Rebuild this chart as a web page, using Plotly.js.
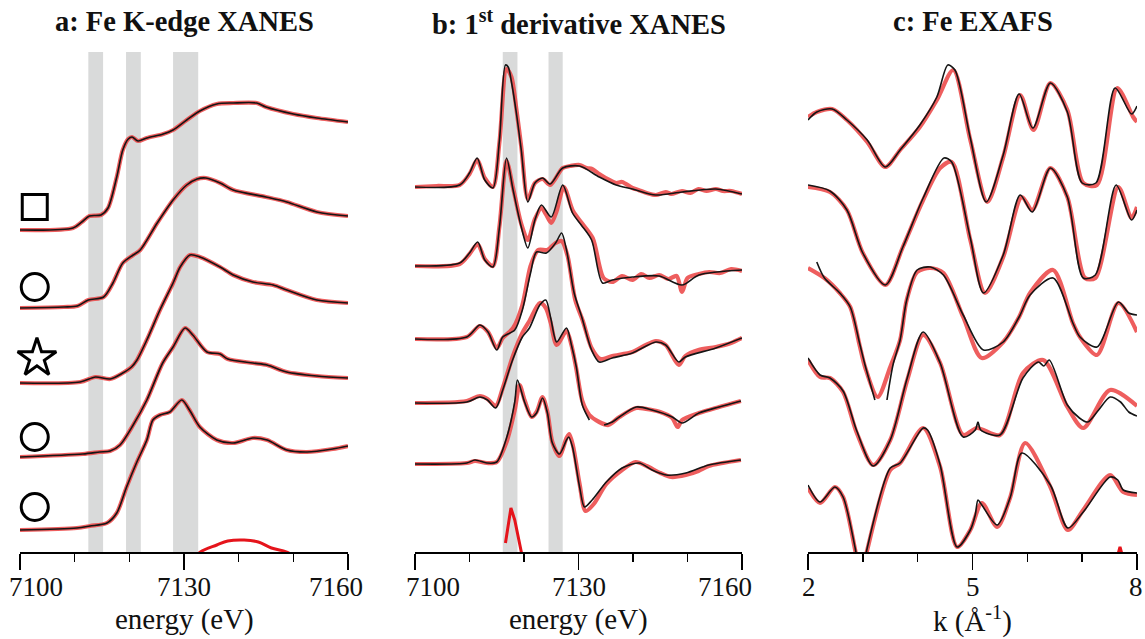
<!DOCTYPE html>
<html><head><meta charset="utf-8">
<script src="https://cdn.plot.ly/plotly-3.0.1.min.js"></script>
<style>html,body{margin:0;padding:0;background:#fff}#chart{width:1145px;height:639px}</style>
</head><body><div id="chart"></div>
<script>
// ---------- Panel a: Fe K-edge XANES (normalised, stacked) ----------
const xanesOffsets = [3.22, 2.44, 1.69, 0.95, 0.22];
const xanesE1 = [7100, 7109.7, 7111.3, 7112.7, 7114.8, 7116.1, 7117.7, 7118.8, 7119.8, 7120.5, 7121.6, 7123.2, 7126.2, 7128, 7130.5, 7132.9, 7136, 7139, 7143.3, 7145, 7150, 7154.3, 7160];
const xanes1  = [0, .02, .08, .14, .15, .22, .53, .80, .91, .93, .89, .92, .96, 1.00, 1.10, 1.19, 1.26, 1.27, 1.27, 1.23, 1.16, 1.12, 1.08];
const xanesE2 = [7100, 7108, 7110.5, 7112.5, 7115.3, 7117, 7118.8, 7120.7, 7122, 7125.1, 7128, 7130.5, 7132.4, 7134, 7136.6, 7139, 7145, 7148.8, 7154.3, 7160];
const xanes2  = [0, .01, .02, .08, .11, .25, .45, .53, .58, .85, 1.08, 1.23, 1.29, 1.30, 1.25, 1.18, 1.11, 1.06, .96, .92];
const xanesE3 = [7100, 7111, 7113.8, 7116.5, 7118.8, 7120.4, 7121.4, 7123.2, 7125.6, 7128, 7129.3, 7131.1, 7132.9, 7136.6, 7139, 7142.6, 7146.3, 7148.8, 7154.3, 7160];
const xanes3  = [0, .01, .06, .04, .10, .16, .23, .43, .73, 1.00, 1.16, 1.28, 1.26, 1.16, 1.08, 1.01, .98, .93, .83, .80];
const xanesE4 = [7100, 7111.5, 7114.6, 7116.5, 7118.3, 7120.7, 7123.2, 7126.1, 7128, 7130.2, 7131.6, 7134.2, 7136.6, 7138, 7142.6, 7145.2, 7148.8, 7154.3, 7160];
const xanes4  = [0, .03, .05, .06, .12, .32, .57, .94, 1.10, 1.29, 1.22, 1.05, 1.03, .98, .94, .92, .85, .81, .79];
const xanesE5 = [7100, 7110.4, 7112.8, 7115.9, 7117.7, 7119.5, 7121.3, 7123.2, 7124.3, 7125.6, 7127.4, 7129.6, 7131, 7132.9, 7136, 7139, 7142.6, 7145.2, 7148.8, 7152.5, 7157.2, 7160];
const xanes5  = [0, .02, .04, .07, .17, .43, .67, .90, 1.10, 1.15, 1.18, 1.30, 1.20, 1.03, .90, .87, .92, .90, .80, .78, .81, .84];
const xanesResE = [7131, 7133, 7136, 7138, 7141, 7143.6, 7146, 7148.8, 7151];
const xanesRes  = [-.13, 0, .07, .11, .12, .10, .04, 0, -.08];
const xanesBands = [[7112.5, 7115.2], [7119.4, 7122.1], [7128, 7132.6]];
const markerSymbols = ['square-open', 'circle-open', 'star-open', 'circle-open', 'circle-open'];
const markerSizes = [25, 27, 29, 27, 27];
const markerE = [7102.7, 7102.7, 7103.1, 7102.7, 7102.7];
const markerY = [3.45, 2.65, 1.94, 1.15, 0.45];

// ---------- Panel b: 1st derivative XANES (stacked) ----------
const derivOffsets = [3.65, 2.86, 2.14, 1.49, 0.88];
const derivDataE1 = [7100, 7108.2, 7110, 7111.4, 7112.8, 7114.3, 7115.5, 7116.6, 7117.1, 7117.7, 7118.6, 7119.5, 7120.7, 7122, 7123.4, 7124.8, 7127.1, 7130.2, 7133.8, 7136.9, 7139.9, 7144.2, 7149, 7155.2, 7160];
const derivData1  = [0, .02, .14, .29, .07, -.01, .47, 1.22, 1.20, 1.05, .74, .37, -.15, .04, .09, .03, .19, .21, .10, .02, -.02, -.08, -.05, -.02, -.07];
const derivFitE1 = [7100, 7104, 7108.2, 7110, 7111.4, 7112.8, 7114.3, 7115.5, 7116.8, 7117.7, 7118.6, 7119.5, 7120.7, 7122, 7123.4, 7124.8, 7127.1, 7128.5, 7130.2, 7131.5, 7132.5, 7133.8, 7135, 7136.9, 7138, 7139.9, 7141, 7142.5, 7144.2, 7146, 7147, 7149, 7150.5, 7152, 7153.5, 7155.2, 7156.5, 7158, 7160];
const derivFit1  = [0, .01, .02, .13, .27, .09, 0, .45, 1.18, 1.10, .78, .40, -.12, .04, .08, .02, .19, .21, .22, .19, .18, .13, .09, .04, .05, -.01, -.03, -.06, -.08, -.05, -.07, -.04, -.06, -.02, -.04, -.02, -.04, -.04, -.07];
const derivDataE2 = [7100, 7108.2, 7110, 7111.5, 7112.8, 7114.3, 7115.5, 7116.8, 7118, 7119.5, 7120.7, 7122, 7123.2, 7125, 7127.1, 7128.9, 7130.5, 7132.4, 7134.4, 7136.2, 7139.9, 7144.8, 7149, 7152.1, 7160];
const derivData2  = [0, .03, .13, .24, .06, -.01, .39, 1.08, .76, .39, .18, .46, .61, .49, .81, .53, .41, .26, -.17, -.14, -.11, -.10, -.19, -.09, -.04];
const derivFitE2 = [7100, 7108.2, 7110, 7111.5, 7112.8, 7114.3, 7115.5, 7116.8, 7118, 7119.5, 7120.7, 7122, 7123.2, 7124, 7125, 7126, 7127.3, 7129, 7130.6, 7132.6, 7134.6, 7136.2, 7138, 7139.9, 7141.5, 7143, 7144.8, 7146.5, 7148, 7149, 7150, 7152.1, 7154, 7156, 7158, 7160];
const derivFit2  = [0, .02, .12, .22, .07, 0, .40, 1.05, .78, .42, .26, .47, .58, .52, .43, .55, .79, .55, .43, .28, -.12, -.16, -.10, -.14, -.08, -.12, -.09, -.13, -.10, -.26, -.12, -.08, -.06, -.07, -.03, -.05];
const derivDataE3 = [7100, 7109.5, 7111.9, 7113.4, 7115, 7116.1, 7118.3, 7119.7, 7121.2, 7122.3, 7124.1, 7125.8, 7126.9, 7127.8, 7129.2, 7130.6, 7132.4, 7133.8, 7136.2, 7139.9, 7144.2, 7146, 7148.4, 7149.6, 7155.2, 7160];
const derivData3  = [-.01, .01, .13, .06, -.12, .01, .08, .28, .65, .86, .85, .95, 1.05, .88, .45, .21, -.12, -.24, -.20, -.15, -.04, -.07, -.24, -.19, -.10, 0];
const derivFitE3 = [7100, 7109.5, 7111.9, 7113.4, 7115, 7116.1, 7118, 7119.7, 7121.2, 7122.6, 7124.3, 7125.8, 7126.9, 7128, 7129.4, 7130.8, 7132.4, 7134, 7136.2, 7139.9, 7142, 7144.2, 7146, 7148.4, 7149.6, 7152, 7155.2, 7158, 7160];
const derivFit3  = [-.01, .01, .12, .06, -.10, 0, .10, .33, .72, .88, .88, .95, .97, .82, .38, .17, -.10, -.21, -.18, -.14, -.08, -.03, -.07, -.27, -.18, -.12, -.09, -.05, 0];
const derivDataE4 = [7100, 7109.5, 7111.9, 7113.3, 7114.8, 7116.1, 7117.9, 7119.7, 7121, 7122.9, 7124, 7124.9, 7126, 7127.8, 7128.7, 7129.6, 7130.7, 7132, 7133, 7134.7, 7136.2, 7137.5, 7140.6, 7143.5, 7147.2, 7149, 7152.1, 7155.8, 7159.8];
const derivData4  = [0, .01, .06, .03, -.05, .13, .43, .66, .75, .98, 1.03, .85, .61, .75, .58, .36, -.02, -.17, null, -.22, -.19, -.14, -.04, -.07, -.14, -.20, -.10, -.04, .02];
const derivFitE4 = [7100, 7109.5, 7111.9, 7113.3, 7114.8, 7116.1, 7117.9, 7119.7, 7121, 7122.9, 7124, 7124.9, 7126, 7127.8, 7128.7, 7129.6, 7130.7, 7132, 7133.8, 7135.5, 7137.5, 7140.6, 7143.5, 7145, 7147.2, 7148.2, 7149, 7152.1, 7155.8, 7159.8];
const derivFit4  = [0, .02, .07, .04, -.03, .15, .46, .70, .82, 1.00, .95, .80, .58, .72, .58, .34, .02, -.12, -.19, -.22, -.14, -.05, -.07, -.09, -.15, -.24, -.17, -.10, -.04, .02];
const derivDataE5 = [7100, 7109.5, 7111, 7113.2, 7115, 7116.8, 7118.3, 7118.8, 7120.1, 7121.4, 7122.3, 7123.4, 7124.3, 7125.2, 7126.5, 7127.8, 7128.2, 7128.9, 7130.2, 7131.1, 7132.5, 7135.1, 7138, 7141.1, 7143.5, 7146.1, 7149.7, 7153.9, 7159.8];
const derivData5  = [0, .01, .04, .01, .02, .26, .62, .84, .62, .47, .51, .66, .51, .21, .10, .24, .27, .17, -.23, -.43, -.36, -.18, -.04, .01, -.06, -.11, -.09, -.01, .04];
const derivFitE5 = [7100, 7109.5, 7111, 7113.2, 7115, 7116.8, 7118.3, 7119.2, 7120.1, 7121.4, 7122.3, 7123.4, 7124.3, 7125.2, 7126.5, 7127.8, 7128.3, 7129, 7130.2, 7131.3, 7132.8, 7135.1, 7138, 7140.5, 7142.5, 7145, 7147, 7149.7, 7152, 7153.9, 7159.8];
const derivFit5  = [0, .01, .03, .01, .02, .22, .54, .79, .64, .47, .52, .67, .52, .22, .08, .26, .30, .18, -.20, -.47, -.40, -.20, -.06, .02, -.02, -.09, -.13, -.11, -.07, -.02, .04];
const derivResE = [7116.6, 7117.6, 7118.3, 7119.4, 7119.7];
const derivRes  = [.09, .44, .32, 0, -.05];
const derivBands = [[7116.1, 7118.8], [7124.5, 7127.1]];

// ---------- Panel c: Fe EXAFS (stacked) ----------
const exafsOffsets = [4.02, 3.22, 2.42, 1.52, 0.62];
const exafsFitK1 = [2.0, 2.16, 2.44, 2.71, 3.08, 3.41, 3.68, 4.04, 4.35, 4.65, 4.96, 5.27, 5.56, 5.87, 6.11, 6.42, 6.73, 7.02, 7.27, 7.64, 7.93, 8.0];
const exafsFit1  = [.33, .38, .41, .30, .08, -.17, 0, .23, .50, .80, .10, -.52, -.07, .55, .20, .67, .40, -.33, -.35, .62, .33, .28];
const exafsDataK1 = [2.0, 2.16, 2.44, 2.71, 3.08, 3.41, 3.68, 4.04, 4.35, 4.55, 4.68, 4.96, 5.25, 5.56, 5.85, 6.1, 6.42, 6.73, 7.0, 7.25, 7.6, 7.9, 8.0];
const exafsData1  = [.30, .38, .41, .30, .10, -.17, 0, .25, .53, .85, .80, .12, -.52, -.05, .56, .22, .67, .38, -.33, -.33, .62, .36, .44];
const exafsFitK2 = [2.0, 2.4, 2.71, 3.0, 3.41, 3.73, 4.1, 4.41, 4.62, 4.96, 5.23, 5.56, 5.9, 6.09, 6.42, 6.73, 7.05, 7.24, 7.66, 7.9, 8.0];
const exafsFit2  = [.43, .38, .20, -.23, -.55, -.17, .30, .62, .68, -.10, -.63, -.27, .33, .20, .62, .33, -.48, -.48, .43, .12, .23];
const exafsDataK2 = [2.0, 2.4, 2.71, 3.0, 3.41, 3.73, 4.1, 4.48, 4.62, 4.96, 5.2, 5.56, 5.87, 6.09, 6.42, 6.73, 7.02, 7.24, 7.62, 7.9, 8.0];
const exafsData2  = [.45, .39, .20, -.23, -.55, -.17, .32, .72, .68, -.08, -.63, -.25, .35, .18, .62, .33, -.48, -.45, .45, .10, .20];
const exafsFitK3 = [2.0, 2.3, 2.58, 2.77, 2.94, 3.04, 3.27, 3.5, 3.68, 3.8, 3.99, 4.23, 4.47, 4.83, 5.17, 5.56, 5.85, 6.05, 6.47, 6.83, 6.96, 7.27, 7.66, 8.0];
const exafsFit3  = [.42, .32, .17, .03, -.35, -.57, -.87, -.57, -.30, .10, .38, .42, .37, -.07, -.48, -.32, -.07, .17, .40, -.13, -.27, -.45, .07, -.22];
const exafsDataK3 = [2.16, 2.3, 2.58, 2.77, 2.94, 3.04, 3.22, 3.33, 3.44, 3.55, 3.68, 3.8, 3.99, 4.23, 4.47, 4.83, 5.2, 5.56, 5.85, 6.05, 6.47, 6.83, 6.96, 7.27, 7.66, 7.85, 8.0];
const exafsData3  = [.48, .32, .17, .03, -.33, -.55, -.90, null, -.90, -.55, -.30, .10, .40, .43, .35, -.05, -.40, -.32, -.07, .15, .32, -.13, -.27, -.37, .08, -.03, -.05];
const exafsFitK4 = [2.0, 2.22, 2.4, 2.64, 2.89, 3.19, 3.5, 3.81, 4.1, 4.41, 4.83, 5.08, 5.5, 5.92, 6.29, 6.73, 7.02, 7.51, 8.0];
const exafsFit4  = [.40, .23, .22, .08, -.33, -.65, -.40, .20, .65, .37, -.35, -.28, -.35, .27, .40, -.07, -.28, .10, -.06];
const exafsDataK4 = [2.0, 2.22, 2.4, 2.64, 2.89, 3.19, 3.5, 3.81, 4.1, 4.41, 4.83, 5.05, 5.1, 5.15, 5.5, 5.92, 6.2, 6.3, 6.4, 6.73, 6.95, 7.1, 7.3, 7.51, 7.7, 7.85, 8.0];
const exafsData4  = [.42, .25, .22, .09, -.31, -.66, -.40, .22, .68, .37, -.37, -.30, -.22, -.30, -.35, .22, .38, .34, .40, -.05, -.18, -.22, -.10, .03, -.02, -.12, -.16];
const exafsFitK5 = [2.0, 2.22, 2.49, 2.64, 2.86, 2.97, 3.08, 3.5, 3.68, 4.1, 4.41, 4.72, 4.96, 5.17, 5.45, 5.69, 5.96, 6.42, 6.74, 7.02, 7.51, 7.75, 8.0];
const exafsFit5  = [.02, -.13, .03, -.07, -.60, -.90, -.60, .20, .27, .62, .23, -.57, -.40, -.13, -.37, -.07, .47, .03, -.40, -.20, .15, -.02, -.05];
const exafsDataK5 = [2.0, 2.22, 2.49, 2.64, 2.86, 2.97, 3.08, 3.5, 3.68, 4.1, 4.18, 4.41, 4.72, 4.96, 5.05, 5.1, 5.17, 5.45, 5.69, 5.9, 6.42, 6.74, 7.02, 7.51, 7.65, 7.75, 8.0];
const exafsData5  = [.05, -.12, .03, -.07, -.58, -.90, -.58, .22, .27, .62, .60, .25, -.57, -.40, -.25, -.10, -.15, -.35, -.07, .37, .05, -.38, -.22, .13, .10, 0, -.03];
const exafsResK = [7.64, 7.69, 7.74];
const exafsRes  = [-.05, .05, -.05];

// ---------- axis ticks & labels ----------
const energyMajorTicks = [7100, 7130, 7160];
const energyMinorTicks = [7110, 7120, 7140, 7150];
const kMajorTicks = [2, 5, 8];
const kMinorTicks = [3, 4, 6, 7];
const panelTitles = ['<b>a: Fe K-edge XANES</b>', '<b>b: 1<sup>st</sup> derivative XANES</b>', '<b>c: Fe EXAFS</b>'];
const axisTitles = ['energy (eV)', 'energy (eV)', 'k (Å<sup>-1</sup>)'];

// ---------- build ----------
const RED = 'rgba(236,72,72,0.88)';
const BLACK = '#151515';
const RESRED = '#e5141b';
const FONT = 'Liberation Serif';
const traces = [];
function shift(v, o) { return v.map(d => d === null ? null : d + o); }
function addPair(xa, ya, xd, yd, off, ax) {
  traces.push({x: xa, y: shift(ya, off), xaxis: 'x' + ax, yaxis: 'y' + ax, mode: 'lines',
    line: {color: RED, width: 4.2, shape: 'spline', smoothing: 0.8}, hoverinfo: 'skip', connectgaps: false});
  traces.push({x: xd, y: shift(yd, off), xaxis: 'x' + ax, yaxis: 'y' + ax, mode: 'lines',
    line: {color: BLACK, width: 1.6, shape: 'spline', smoothing: 0.8}, hoverinfo: 'skip', connectgaps: false});
}
const xE = [xanesE1, xanesE2, xanesE3, xanesE4, xanesE5];
const xV = [xanes1, xanes2, xanes3, xanes4, xanes5];
for (let i = 0; i < 5; i++) addPair(xE[i], xV[i], xE[i], xV[i], xanesOffsets[i], '');
traces.push({x: xanesResE, y: xanesRes, xaxis: 'x', yaxis: 'y', mode: 'lines', line: {color: RESRED, width: 3, shape: 'spline'}, hoverinfo: 'skip'});
for (let i = 0; i < 5; i++) traces.push({x: [markerE[i]], y: [markerY[i]], xaxis: 'x', yaxis: 'y', mode: 'markers', cliponaxis: false,
  marker: {symbol: markerSymbols[i], size: markerSizes[i], color: '#000', line: {color: '#000', width: 3}}, hoverinfo: 'skip'});

const dFE = [derivFitE1, derivFitE2, derivFitE3, derivFitE4, derivFitE5];
const dF = [derivFit1, derivFit2, derivFit3, derivFit4, derivFit5];
const dDE = [derivDataE1, derivDataE2, derivDataE3, derivDataE4, derivDataE5];
const dD = [derivData1, derivData2, derivData3, derivData4, derivData5];
for (let i = 0; i < 5; i++) addPair(dFE[i], dF[i], dDE[i], dD[i], derivOffsets[i], '2');
traces.push({x: derivResE, y: derivRes, xaxis: 'x2', yaxis: 'y2', mode: 'lines', line: {color: RESRED, width: 3}, hoverinfo: 'skip'});

const eFK = [exafsFitK1, exafsFitK2, exafsFitK3, exafsFitK4, exafsFitK5];
const eF = [exafsFit1, exafsFit2, exafsFit3, exafsFit4, exafsFit5];
const eDK = [exafsDataK1, exafsDataK2, exafsDataK3, exafsDataK4, exafsDataK5];
const eD = [exafsData1, exafsData2, exafsData3, exafsData4, exafsData5];
for (let i = 0; i < 5; i++) addPair(eFK[i], eF[i], eDK[i], eD[i], exafsOffsets[i], '3');
traces.push({x: exafsResK, y: exafsRes, xaxis: 'x3', yaxis: 'y3', mode: 'lines', line: {color: RESRED, width: 3}, hoverinfo: 'skip'});

const W = 1145, PLOT_H = 500;
const domains = [[20 / W, 348 / W], [415 / W, 742 / W], [808 / W, 1137 / W]];
function xax(i, range, major, minor) {
  return {domain: domains[i], range: range, anchor: i === 0 ? 'y' : 'y' + (i + 1), showgrid: false, zeroline: false,
    showline: true, linecolor: '#000', linewidth: 1.5, ticks: 'outside', ticklen: 16, tickwidth: 1.5, tickcolor: '#000',
    tickmode: 'array', tickvals: major, showticklabels: false,
    minor: {tickmode: 'array', tickvals: minor, ticks: 'outside', ticklen: 8, tickwidth: 1.5, tickcolor: '#000', showgrid: false}};
}
function yax() { return {range: [0, 5], visible: false, showgrid: false, zeroline: false, fixedrange: true}; }
const shapes = [];
xanesBands.forEach(b => shapes.push({type: 'rect', xref: 'x', yref: 'y domain', x0: b[0], x1: b[1], y0: 0, y1: 1, fillcolor: '#d9dada', line: {width: 0}, layer: 'below'}));
derivBands.forEach(b => shapes.push({type: 'rect', xref: 'x2', yref: 'y2 domain', x0: b[0], x1: b[1], y0: 0, y1: 1, fillcolor: '#d9dada', line: {width: 0}, layer: 'below'}));

const annotations = [];
const axRefs = ['x', 'x2', 'x3'];
panelTitles.forEach((t, i) => annotations.push({text: t, xref: axRefs[i] + ' domain', x: 0.5, yref: 'paper', y: 1 + 30 / PLOT_H,
  xanchor: 'center', yanchor: 'middle', showarrow: false, font: {family: FONT, size: 28.5, color: '#111'}}));
axisTitles.forEach((t, i) => annotations.push({text: t, xref: axRefs[i] + ' domain', x: 0.5, yref: 'paper', y: -67 / PLOT_H,
  xanchor: 'center', yanchor: 'middle', showarrow: false, font: {family: FONT, size: 29, color: '#111'}}));
// tick labels: end labels of the energy axes sit inside the axis span
const labelSets = [[energyMajorTicks, 'x', [16, 0, -12]], [energyMajorTicks, 'x2', [18, 0, -17]], [kMajorTicks, 'x3', [1, 0, -1]]];
labelSets.forEach(([vals, ref, shifts]) => vals.forEach((v, j) => annotations.push({text: String(v), xref: ref, x: v, xshift: shifts[j],
  yref: 'paper', y: -35 / PLOT_H, xanchor: 'center', yanchor: 'middle', showarrow: false, font: {family: FONT, size: 27, color: '#111'}})));

const layout = {
  width: 1145, height: 639, margin: {l: 0, r: 0, t: 52, b: 87},
  paper_bgcolor: '#fff', plot_bgcolor: 'rgba(0,0,0,0)', showlegend: false,
  xaxis: xax(0, [7100, 7160], energyMajorTicks, energyMinorTicks), yaxis: Object.assign(yax(), {anchor: 'x'}),
  xaxis2: xax(1, [7100, 7160], energyMajorTicks, energyMinorTicks), yaxis2: Object.assign(yax(), {anchor: 'x2'}),
  xaxis3: xax(2, [2, 8], kMajorTicks, kMinorTicks), yaxis3: Object.assign(yax(), {anchor: 'x3'}),
  shapes: shapes, annotations: annotations
};
Plotly.newPlot('chart', traces, layout, {displayModeBar: false, staticPlot: true});
</script></body></html>
